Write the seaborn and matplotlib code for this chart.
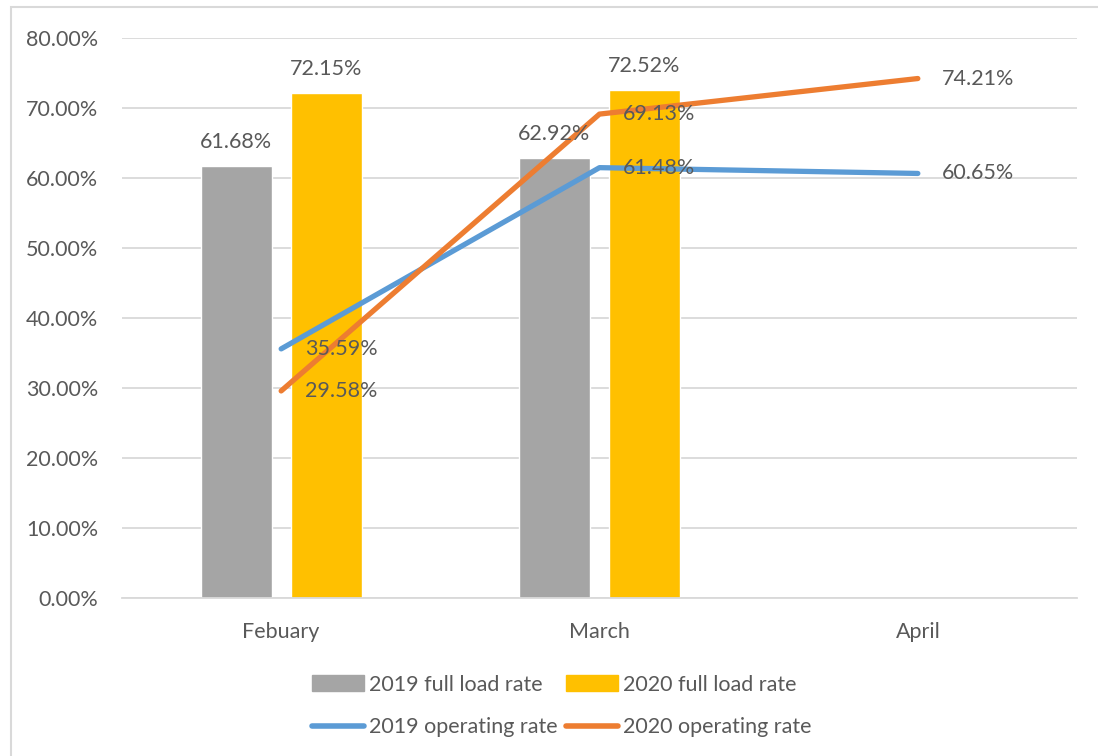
import numpy as np
import pandas as pd
import matplotlib
matplotlib.use('Agg')
import matplotlib.pyplot as plt
import seaborn as sns
from matplotlib.patches import Patch, Rectangle
from matplotlib.lines import Line2D

# data
months = ['Febuary', 'March', 'April']
full_2019 = [61.68, 62.92]          # no April bar
full_2020 = [72.15, 72.52]
oper_2019 = [35.59, 61.48, 60.65]
oper_2020 = [29.58, 69.13, 74.21]

GRAY = '#A5A5A5'
GOLD = '#FFC000'
BLUE = '#5B9BD5'
ORANGE = '#ED7D31'
TXT = '#595959'
GRID = '#D9D9D9'
FS = 15.5

sns.set_style('white')
plt.rcParams['font.family'] = ['Lato', 'DejaVu Sans']

bars = pd.DataFrame({
    'month': months[:2] * 2,
    'rate': full_2019 + full_2020,
    'series': ['2019 full load rate'] * 2 + ['2020 full load rate'] * 2,
})
lines = pd.DataFrame({
    'pos': list(range(len(months))) * 2,
    'rate': oper_2019 + oper_2020,
    'series': ['2019 operating rate'] * 3 + ['2020 operating rate'] * 3,
})

fig = plt.figure(figsize=(10.98, 7.56), dpi=100)
ax = fig.add_axes([122 / 1098, 1 - 598 / 756, 955 / 1098, 560 / 756])

sns.barplot(data=bars, x='month', y='rate', hue='series', order=months,
            palette=[GRAY, GOLD], saturation=1, width=0.566, gap=0.21, ax=ax,
            legend=False, zorder=2)
sns.lineplot(data=lines, x='pos', y='rate', hue='series', palette=[BLUE, ORANGE],
             linewidth=3.8, ax=ax, legend=False, zorder=3,
             solid_capstyle='round', solid_joinstyle='round')

# bar value labels
for cont in ax.containers:
    ax.bar_label(cont, labels=[f'{v:.2f}%' for v in cont.datavalues],
                 padding=10, color=TXT, fontsize=FS)

# line value labels
for vals in (oper_2019, oper_2020):
    for i, v in enumerate(vals):
        ax.annotate(f'{v:.2f}%', (i, v), xytext=(17, 0), textcoords='offset points',
                    va='center', ha='left', color=TXT, fontsize=FS, zorder=4)

ax.set_xlim(-0.5, 2.5)
ax.set_ylim(0, 80)
ax.set_yticks(np.arange(0, 81, 10))
ax.set_yticklabels([f'{t:.2f}%' for t in np.arange(0, 81, 10)])
ax.set_xticks(range(len(months)))
ax.set_xticklabels(months)
ax.set_xlabel('')
ax.set_ylabel('')
ax.tick_params(axis='both', length=0, labelsize=FS, labelcolor=TXT)
ax.tick_params(axis='x', pad=17)
ax.tick_params(axis='y', pad=17)
ax.yaxis.grid(True, color=GRID, linewidth=1.3)
ax.set_axisbelow(True)
for s in ['left', 'right', 'top']:
    ax.spines[s].set_visible(False)
ax.spines['bottom'].set_color(GRID)
ax.spines['bottom'].set_linewidth(1.3)

# figure frame
fig.patches.append(Rectangle((11 / 1098, -0.1), 1.2, 1 - 7.5 / 756 + 0.1,
                             transform=fig.transFigure, fill=False,
                             edgecolor=GRID, linewidth=1.5))

handles = [
    Patch(color=GRAY, label='2019 full load rate'),
    Line2D([], [], color=BLUE, lw=4.0, solid_capstyle='round', label='2019 operating rate'),
    Patch(color=GOLD, label='2020 full load rate'),
    Line2D([], [], color=ORANGE, lw=4.0, solid_capstyle='round', label='2020 operating rate'),
]
leg = fig.legend(handles=handles, loc='center', bbox_to_anchor=(562 / 1098, 1 - 706 / 756),
                 ncol=2, frameon=False, fontsize=FS, handlelength=2.4, handleheight=0.75,
                 handletextpad=0.25, columnspacing=0.4, labelspacing=1.05)
for t in leg.get_texts():
    t.set_color(TXT)

fig.savefig('out.png', dpi=100)
